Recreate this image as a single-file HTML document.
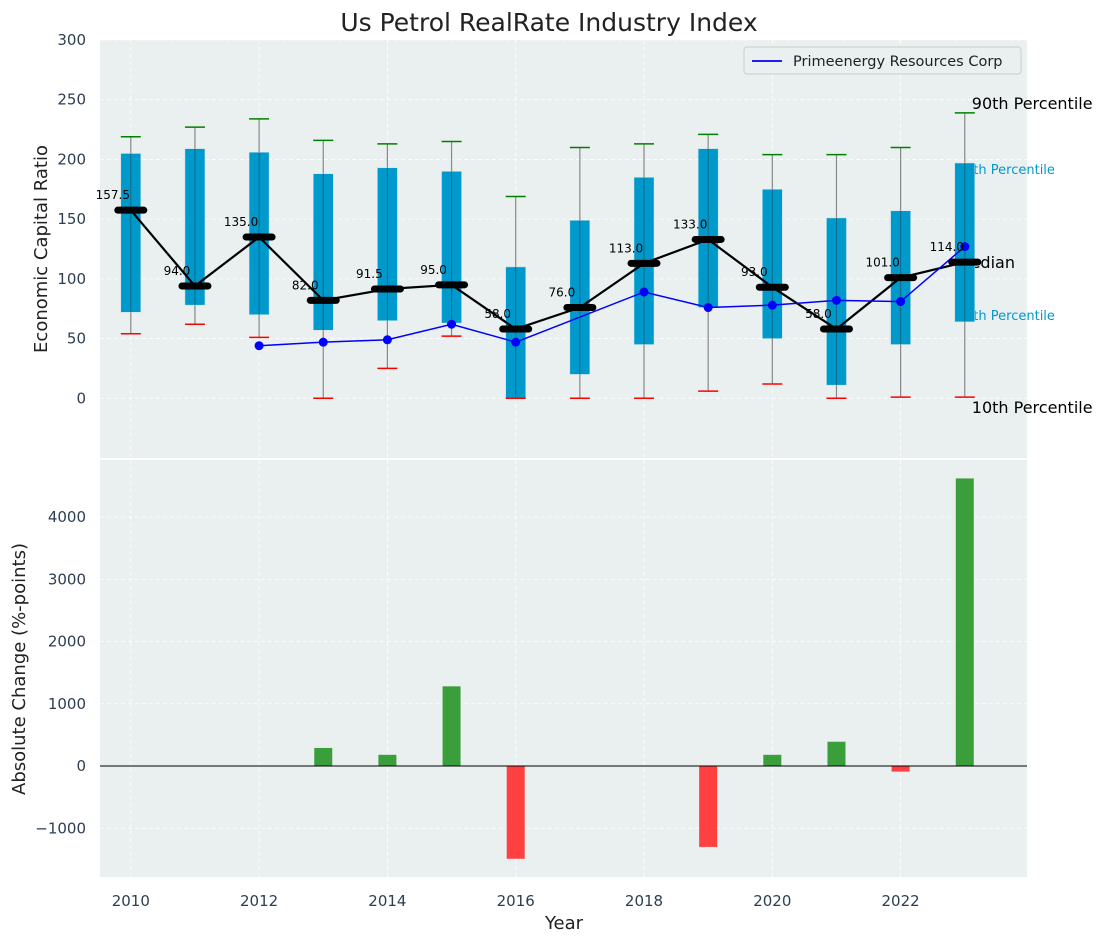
<!DOCTYPE html>
<html><head><meta charset="utf-8"><style>
body{margin:0;background:#fff;}
svg{display:block;font-family:"DejaVu Sans","Liberation Sans",sans-serif;}
</style></head><body>
<svg id="chart" width="1107" height="942"></svg>
<script>
const years=[2010,2011,2012,2013,2014,2015,2016,2017,2018,2019,2020,2021,2022,2023];
const p10=[54,62,51,0,25,52,0,0,0,6,12,0,1,1];
const p25=[72,78,70,57,65,63,0,20,45,76,50,11,45,64];
const medians=[157.5,94,135,82,91.5,95,58,76,113,133,93,58,101,114];
const p75=[205,209,206,188,193,190,110,149,185,209,175,151,157,197];
const p90=[219,227,234,216,213,215,169,210,213,221,204,204,210,239];
const company=[null,null,44,47,49,62,47,null,89,76,78,82,81,127];
const changes=[0,0,0,290,180,1280,-1490,0,0,-1300,180,390,-90,4620];
const yTicksTop=[0,50,100,150,200,250,300];
const yTicksBot=[-1000,0,1000,2000,3000,4000];
const xTicks=[2010,2012,2014,2016,2018,2020,2022];

const NS="http://www.w3.org/2000/svg";
const svg=document.getElementById('chart');
function el(tag,attrs,parent){const e=document.createElementNS(NS,tag);for(const k in attrs)e.setAttribute(k,attrs[k]);(parent||svg).appendChild(e);return e;}
const L=100,R=1027;
const x=v=>L+(v-2009.52)/(2023.97-2009.52)*(R-L);
const T1=40,B1=458,yt=v=>T1+(300-v)/(350)*(B1-T1);
const T2=460,B2=877,yb=v=>T2+(4916-v)/(4916+1783)*(B2-T2);

let e=el('rect',{x:L,y:T1,width:R-L,height:B1-T1,fill:'#eaeff0'});

e=el('rect',{x:L,y:T2,width:R-L,height:B2-T2,fill:'#eaeff0'});

xTicks.forEach(t=>{
  el('line',{x1:x(t),x2:x(t),y1:T1,y2:B1,stroke:'#fff','stroke-dasharray':'4,3','stroke-width':0.8});
  el('line',{x1:x(t),x2:x(t),y1:T2,y2:B2,stroke:'#fff','stroke-dasharray':'4,3','stroke-width':0.8});
  const tx=el('text',{x:x(t),y:906,'font-size':15,fill:'#2c3e50','text-anchor':'middle'});tx.textContent=t;
  
});
yTicksTop.forEach(t=>{
  el('line',{x1:L,x2:R,y1:yt(t),y2:yt(t),stroke:'#fff','stroke-dasharray':'4,3','stroke-width':0.8});
  const tx=el('text',{x:86,y:yt(t)+5,'font-size':15,fill:'#2c3e50','text-anchor':'end'});tx.textContent=t;
  
});
yTicksBot.forEach(t=>{
  el('line',{x1:L,x2:R,y1:yb(t),y2:yb(t),stroke:'#fff','stroke-dasharray':'4,3','stroke-width':0.8});
  const tx=el('text',{x:86,y:yb(t)+5,'font-size':15,fill:'#2c3e50','text-anchor':'end'});tx.textContent=t<0?'\u2212'+(-t):t;
  
});
const lx=x(2023);
[['90th Percentile',lx+7,109,'#000',16],['75th Percentile',lx-8,174,'#0099cc',13],['Median',lx-8,268,'#000',16],['25th Percentile',lx-8,320,'#0099cc',13],['10th Percentile',lx+7,413,'#000',16]].forEach(a=>{
  const t=el('text',{x:a[1],y:a[2],'font-size':a[4],fill:a[3]});t.textContent=a[0];
  
});
years.forEach((yr,i)=>{
  const cx=x(yr);
  const g=el('g',{});
  el('line',{x1:cx,x2:cx,y1:yt(p10[i]),y2:yt(p90[i]),stroke:'#888','stroke-width':1.2},g);
  el('rect',{x:cx-10,y:yt(p75[i]),width:20,height:yt(p25[i])-yt(p75[i]),fill:'#0099cc',stroke:'#cfe3ea','stroke-width':0.5},g);
  el('line',{x1:cx,x2:cx,y1:yt(p75[i]),y2:yt(p25[i]),stroke:'#1a4a5a','stroke-width':1,opacity:0.6},g);
  el('line',{x1:cx-10,x2:cx+10,y1:yt(p90[i]),y2:yt(p90[i]),stroke:'green','stroke-width':1.5},g);
  el('line',{x1:cx-10,x2:cx+10,y1:yt(p10[i]),y2:yt(p10[i]),stroke:'red','stroke-width':1.5},g);
});
e=el('polyline',{points:years.map((yr,i)=>x(yr)+','+yt(medians[i])).join(' '),fill:'none',stroke:'#000','stroke-width':2.2});

const cp=years.map((yr,i)=>company[i]==null?null:[x(yr),yt(company[i])]).filter(p=>p);
e=el('polyline',{points:cp.map(p=>p.join(',')).join(' '),fill:'none',stroke:'blue','stroke-width':1.5});

cp.forEach(p=>{const c=el('circle',{cx:p[0],cy:p[1],r:4.5,fill:'blue'});});
years.forEach((yr,i)=>{
  const cx=x(yr),cy=yt(medians[i]);
  const m=el('line',{x1:cx-13,x2:cx+13,y1:cy,y2:cy,stroke:'#000','stroke-width':7,'stroke-linecap':'round'});
  
  const t=el('text',{x:cx-18,y:cy-11,'font-size':12,fill:'#000','text-anchor':'middle'});t.textContent=medians[i].toFixed(1);
  
});
years.forEach((yr,i)=>{
  const v=changes[i];if(!v)return;
  const r=el('rect',{x:x(yr)-9,y:Math.min(yb(v),yb(0)),width:18,height:Math.abs(yb(v)-yb(0)),fill:v>0?'#3a9e3a':'#ff4040'});
  
});
el('line',{x1:L,x2:R,y1:yb(0),y2:yb(0),stroke:'#000','stroke-width':1});
const lg=el('g',{});
el('rect',{x:744,y:47,width:277,height:27,fill:'#eaeff0',stroke:'#ccc',rx:3},lg);
el('line',{x1:752,x2:782,y1:61,y2:61,stroke:'blue','stroke-width':1.8},lg);
const lt=el('text',{x:793,y:66,'font-size':14.5,fill:'#222'},lg);lt.textContent='Primeenergy Resources Corp';
let t=el('text',{x:549,y:31,'font-size':25,fill:'#222','text-anchor':'middle'});t.textContent='Us Petrol RealRate Industry Index';

t=el('text',{x:47,y:249,'font-size':18,fill:'#222','text-anchor':'middle',transform:'rotate(-90 47 249)'});t.textContent='Economic Capital Ratio';

t=el('text',{x:25,y:669,'font-size':18,fill:'#222','text-anchor':'middle',transform:'rotate(-90 25 669)'});t.textContent='Absolute Change (%-points)';

t=el('text',{x:564,y:929,'font-size':18,fill:'#222','text-anchor':'middle'});t.textContent='Year';

</script>
</body></html>
